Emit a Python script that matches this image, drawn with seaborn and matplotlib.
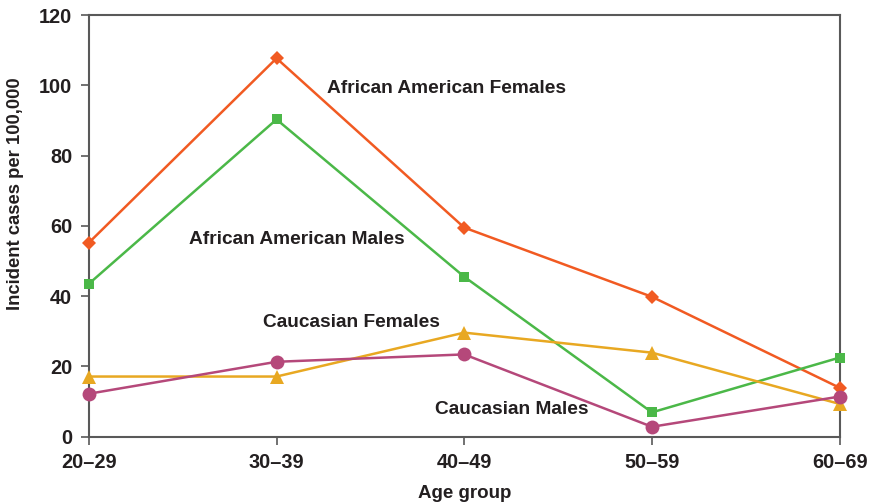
import matplotlib
matplotlib.use("Agg")
import matplotlib.pyplot as plt
import seaborn as sns
import pandas as pd

age_groups = ["20–29", "30–39", "40–49", "50–59", "60–69"]
aa_females = [55.2, 107.7, 59.5, 39.8, 13.9]
aa_males = [43.5, 90.3, 45.5, 6.9, 22.5]
cauc_females = [17.1, 17.1, 29.6, 23.9, 9.3]
cauc_males = [12.2, 21.3, 23.4, 2.8, 11.4]
y_ticks = [0, 20, 40, 60, 80, 100, 120]

series = {
    "African American Females": aa_females,
    "African American Males": aa_males,
    "Caucasian Females": cauc_females,
    "Caucasian Males": cauc_males,
}
colors = {
    "African American Females": "#F15A22",
    "African American Males": "#4BB848",
    "Caucasian Females": "#E8A822",
    "Caucasian Males": "#B5487A",
}
markers = {
    "African American Females": "D",
    "African American Males": "s",
    "Caucasian Females": "^",
    "Caucasian Males": "o",
}
sizes = {
    "African American Females": 7,
    "African American Males": 7,
    "Caucasian Females": 10,
    "Caucasian Males": 10,
}

rows = []
for name, vals in series.items():
    for i, v in enumerate(vals):
        rows.append({"group": name, "x": i, "age": age_groups[i], "rate": v})
df = pd.DataFrame(rows)

sns.set_theme(style="white")
plt.rcParams["font.family"] = ["Liberation Sans", "DejaVu Sans"]
text_color = "#231F20"

fig = plt.figure(figsize=(8.71, 5.03), dpi=100)
ax = fig.add_axes([0.102, 0.132, 0.862, 0.838])

for name in series:
    sub = df[df["group"] == name]
    sns.lineplot(data=sub, x="x", y="rate", ax=ax, color=colors[name],
                 marker=markers[name], markersize=sizes[name],
                 markeredgewidth=0, linewidth=1.8, legend=False,
                 clip_on=False, zorder=3)

ax.set_xlim(0, 4)
ax.set_ylim(0, 120)
ax.set_xticks(range(len(age_groups)))
ax.set_xticklabels(age_groups)
ax.set_yticks(y_ticks)
ax.set_xlabel("Age group", fontsize=13.5, fontweight="bold", color=text_color, labelpad=9)
ax.set_ylabel("Incident cases per 100,000", fontsize=13.3, fontweight="bold", color=text_color)
ax.yaxis.set_label_coords(-0.087, 0.577)

for sp in ax.spines.values():
    sp.set_color("#595959")
    sp.set_linewidth(1.5)

ax.tick_params(axis="both", which="both", direction="out", length=6, width=1.2,
               color="#595959", labelsize=14.3, labelcolor=text_color)
ax.tick_params(axis="y", left=True, right=False, pad=6)
ax.tick_params(axis="x", bottom=True, top=False, pad=6)
for lab in ax.get_xticklabels() + ax.get_yticklabels():
    lab.set_fontweight("bold")

labels = [
    ("African American Females", 1.268, 99.2),
    ("African American Males", 0.533, 56.0),
    ("Caucasian Females", 0.927, 32.4),
    ("Caucasian Males", 1.843, 7.6),
]
for txt, x, y in labels:
    ax.text(x, y, txt, fontsize=13.8, fontweight="bold", color=text_color,
            ha="left", va="center")

fig.savefig("out.png", dpi=100)
